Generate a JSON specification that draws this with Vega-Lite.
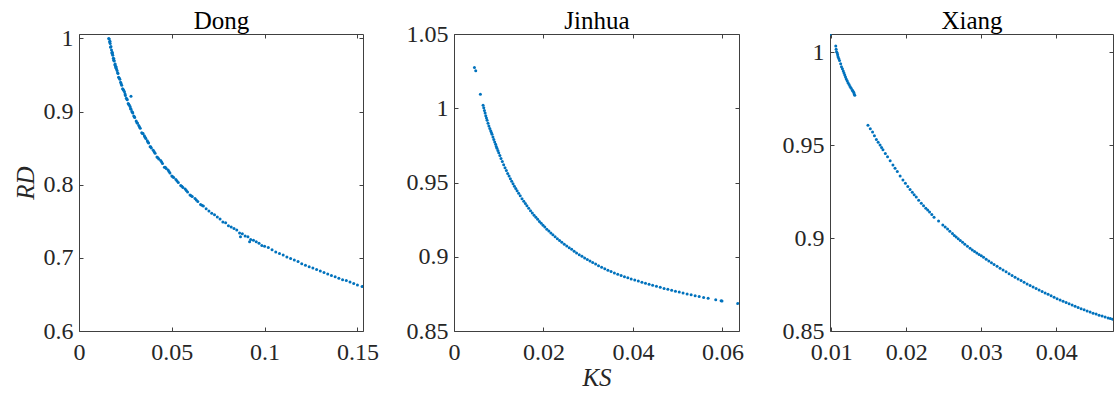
{
  "$schema": "https://vega.github.io/schema/vega-lite/v6.json",
  "padding": {"left": 13, "top": 8, "right": 0, "bottom": 0},
  "background": "white",
  "bounds": "flush",
  "spacing": 91,
  "config": {
    "view": {"stroke": null},
    "axis": {
      "grid": false,
      "labelFont": "Liberation Serif",
      "labelFontSize": 24,
      "labelColor": "#262626",
      "labelFlush": false,
      "labelOverlap": false,
      "domainColor": "#404040",
      "domainWidth": 1,
      "tickColor": "#404040",
      "tickWidth": 1,
      "tickSize": -4,
      "titleFont": "Liberation Serif",
      "titleFontSize": 25,
      "titleFontWeight": "normal",
      "titleFontStyle": "italic",
      "titleColor": "#262626",
      "format": "~g"
    },
    "axisX": {"labelPadding": 13},
    "axisY": {"labelPadding": 10},
    "axisTop": {"titleFontStyle": "normal", "titleColor": "#000000", "titlePadding": 0}
  },
  "datasets": {
    "dong": [
      {"KS": 0.0160, "RD": 1.0000}, {"KS": 0.0163, "RD": 0.9990}, {"KS": 0.0165, "RD": 0.9950}, {"KS": 0.0167, "RD": 0.9960}, {"KS": 0.0168, "RD": 0.9930},
      {"KS": 0.0170, "RD": 0.9880}, {"KS": 0.0172, "RD": 0.9890}, {"KS": 0.0175, "RD": 0.9840}, {"KS": 0.0177, "RD": 0.9800}, {"KS": 0.0179, "RD": 0.9810},
      {"KS": 0.0180, "RD": 0.9790}, {"KS": 0.0182, "RD": 0.9770}, {"KS": 0.0185, "RD": 0.9730}, {"KS": 0.0187, "RD": 0.9700}, {"KS": 0.0188, "RD": 0.9720},
      {"KS": 0.0190, "RD": 0.9690}, {"KS": 0.0193, "RD": 0.9640}, {"KS": 0.0195, "RD": 0.9650}, {"KS": 0.0197, "RD": 0.9620}, {"KS": 0.0198, "RD": 0.9600},
      {"KS": 0.0200, "RD": 0.9610}, {"KS": 0.0202, "RD": 0.9580}, {"KS": 0.0205, "RD": 0.9560}, {"KS": 0.0208, "RD": 0.9530}, {"KS": 0.0210, "RD": 0.9520},
      {"KS": 0.0213, "RD": 0.9470}, {"KS": 0.0217, "RD": 0.9460}, {"KS": 0.0220, "RD": 0.9440}, {"KS": 0.0224, "RD": 0.9400}, {"KS": 0.0227, "RD": 0.9380},
      {"KS": 0.0230, "RD": 0.9360}, {"KS": 0.0235, "RD": 0.9310}, {"KS": 0.0238, "RD": 0.9300}, {"KS": 0.0240, "RD": 0.9290}, {"KS": 0.0245, "RD": 0.9270},
      {"KS": 0.0248, "RD": 0.9240}, {"KS": 0.0250, "RD": 0.9220}, {"KS": 0.0255, "RD": 0.9180}, {"KS": 0.0258, "RD": 0.9170}, {"KS": 0.0260, "RD": 0.9160},
      {"KS": 0.0265, "RD": 0.9110}, {"KS": 0.0268, "RD": 0.9100}, {"KS": 0.0270, "RD": 0.9090}, {"KS": 0.0275, "RD": 0.9070}, {"KS": 0.0278, "RD": 0.9040},
      {"KS": 0.0280, "RD": 0.9030}, {"KS": 0.0280, "RD": 0.9210}, {"KS": 0.0285, "RD": 0.9000}, {"KS": 0.0288, "RD": 0.8990}, {"KS": 0.0290, "RD": 0.8980},
      {"KS": 0.0295, "RD": 0.8940}, {"KS": 0.0298, "RD": 0.8930}, {"KS": 0.0300, "RD": 0.8920}, {"KS": 0.0308, "RD": 0.8870}, {"KS": 0.0312, "RD": 0.8850},
      {"KS": 0.0315, "RD": 0.8840}, {"KS": 0.0322, "RD": 0.8810}, {"KS": 0.0326, "RD": 0.8790}, {"KS": 0.0330, "RD": 0.8770}, {"KS": 0.0338, "RD": 0.8710},
      {"KS": 0.0342, "RD": 0.8700}, {"KS": 0.0345, "RD": 0.8700}, {"KS": 0.0352, "RD": 0.8670}, {"KS": 0.0356, "RD": 0.8650}, {"KS": 0.0360, "RD": 0.8630},
      {"KS": 0.0368, "RD": 0.8600}, {"KS": 0.0372, "RD": 0.8580}, {"KS": 0.0375, "RD": 0.8570}, {"KS": 0.0383, "RD": 0.8520}, {"KS": 0.0386, "RD": 0.8520},
      {"KS": 0.0390, "RD": 0.8500}, {"KS": 0.0400, "RD": 0.8470}, {"KS": 0.0405, "RD": 0.8450}, {"KS": 0.0410, "RD": 0.8430}, {"KS": 0.0420, "RD": 0.8380},
      {"KS": 0.0425, "RD": 0.8370}, {"KS": 0.0430, "RD": 0.8350}, {"KS": 0.0440, "RD": 0.8330}, {"KS": 0.0445, "RD": 0.8310}, {"KS": 0.0450, "RD": 0.8290},
      {"KS": 0.0460, "RD": 0.8240}, {"KS": 0.0465, "RD": 0.8240}, {"KS": 0.0470, "RD": 0.8220}, {"KS": 0.0480, "RD": 0.8200}, {"KS": 0.0485, "RD": 0.8180},
      {"KS": 0.0490, "RD": 0.8160}, {"KS": 0.0500, "RD": 0.8120}, {"KS": 0.0505, "RD": 0.8110}, {"KS": 0.0510, "RD": 0.8100}, {"KS": 0.0522, "RD": 0.8070},
      {"KS": 0.0528, "RD": 0.8050}, {"KS": 0.0535, "RD": 0.8030}, {"KS": 0.0548, "RD": 0.7990}, {"KS": 0.0554, "RD": 0.7980}, {"KS": 0.0560, "RD": 0.7960},
      {"KS": 0.0572, "RD": 0.7940}, {"KS": 0.0578, "RD": 0.7920}, {"KS": 0.0585, "RD": 0.7900}, {"KS": 0.0598, "RD": 0.7860}, {"KS": 0.0604, "RD": 0.7850},
      {"KS": 0.0610, "RD": 0.7840}, {"KS": 0.0625, "RD": 0.7810}, {"KS": 0.0632, "RD": 0.7790}, {"KS": 0.0640, "RD": 0.7770}, {"KS": 0.0655, "RD": 0.7730},
      {"KS": 0.0662, "RD": 0.7720}, {"KS": 0.0670, "RD": 0.7710}, {"KS": 0.0685, "RD": 0.7670}, {"KS": 0.0700, "RD": 0.7640},
      {"KS": 0.0715, "RD": 0.7610}, {"KS": 0.0730, "RD": 0.7590}, {"KS": 0.0745, "RD": 0.7560}, {"KS": 0.0760, "RD": 0.7530},
      {"KS": 0.0775, "RD": 0.7490}, {"KS": 0.0790, "RD": 0.7480}, {"KS": 0.0805, "RD": 0.7440}, {"KS": 0.0820, "RD": 0.7420},
      {"KS": 0.0835, "RD": 0.7400}, {"KS": 0.0850, "RD": 0.7380}, {"KS": 0.0865, "RD": 0.7340}, {"KS": 0.0870, "RD": 0.7290},
      {"KS": 0.0880, "RD": 0.7330}, {"KS": 0.0895, "RD": 0.7300}, {"KS": 0.0910, "RD": 0.7290}, {"KS": 0.0919, "RD": 0.7220},
      {"KS": 0.0925, "RD": 0.7250}, {"KS": 0.0940, "RD": 0.7240}, {"KS": 0.0955, "RD": 0.7220}, {"KS": 0.0970, "RD": 0.7200},
      {"KS": 0.0985, "RD": 0.7170}, {"KS": 0.1000, "RD": 0.7160}, {"KS": 0.1020, "RD": 0.7140}, {"KS": 0.1040, "RD": 0.7110},
      {"KS": 0.1060, "RD": 0.7080}, {"KS": 0.1080, "RD": 0.7060}, {"KS": 0.1100, "RD": 0.7040}, {"KS": 0.1120, "RD": 0.7010},
      {"KS": 0.1140, "RD": 0.6990}, {"KS": 0.1160, "RD": 0.6970}, {"KS": 0.1180, "RD": 0.6950}, {"KS": 0.1200, "RD": 0.6920},
      {"KS": 0.1220, "RD": 0.6900}, {"KS": 0.1240, "RD": 0.6880}, {"KS": 0.1260, "RD": 0.6860}, {"KS": 0.1280, "RD": 0.6840},
      {"KS": 0.1300, "RD": 0.6820}, {"KS": 0.1320, "RD": 0.6800}, {"KS": 0.1340, "RD": 0.6780}, {"KS": 0.1360, "RD": 0.6760},
      {"KS": 0.1380, "RD": 0.6740}, {"KS": 0.1400, "RD": 0.6720}, {"KS": 0.1420, "RD": 0.6700}, {"KS": 0.1440, "RD": 0.6690},
      {"KS": 0.1460, "RD": 0.6670}, {"KS": 0.1480, "RD": 0.6650}, {"KS": 0.1500, "RD": 0.6630}, {"KS": 0.1525, "RD": 0.6610}
    ],
    "jinhua": [
      {"KS": 0.00457, "RD": 1.0275}, {"KS": 0.00486, "RD": 1.0253}, {"KS": 0.0059, "RD": 1.0095}, {"KS": 0.0065, "RD": 1.0020},
      {"KS": 0.00665, "RD": 1.0003}, {"KS": 0.0068, "RD": 0.9985}, {"KS": 0.00695, "RD": 0.9968}, {"KS": 0.0071, "RD": 0.9950},
      {"KS": 0.00725, "RD": 0.9934}, {"KS": 0.0074, "RD": 0.9919}, {"KS": 0.0076, "RD": 0.9899}, {"KS": 0.0078, "RD": 0.9880},
      {"KS": 0.0080, "RD": 0.9864}, {"KS": 0.0082, "RD": 0.9848}, {"KS": 0.00835, "RD": 0.9836}, {"KS": 0.0085, "RD": 0.9825},
      {"KS": 0.0087, "RD": 0.9807}, {"KS": 0.0089, "RD": 0.9790}, {"KS": 0.0091, "RD": 0.9773}, {"KS": 0.0093, "RD": 0.9757},
      {"KS": 0.00945, "RD": 0.9743}, {"KS": 0.0096, "RD": 0.9730}, {"KS": 0.0098, "RD": 0.9715}, {"KS": 0.0100, "RD": 0.9700},
      {"KS": 0.01025, "RD": 0.9681}, {"KS": 0.0105, "RD": 0.9662}, {"KS": 0.0108, "RD": 0.9641}, {"KS": 0.0111, "RD": 0.9620},
      {"KS": 0.0114, "RD": 0.9600}, {"KS": 0.0117, "RD": 0.9580}, {"KS": 0.0120, "RD": 0.9561}, {"KS": 0.0123, "RD": 0.9543},
      {"KS": 0.0126, "RD": 0.9525}, {"KS": 0.0129, "RD": 0.9508}, {"KS": 0.0132, "RD": 0.9491}, {"KS": 0.0135, "RD": 0.9475},
      {"KS": 0.0138, "RD": 0.9459}, {"KS": 0.0141, "RD": 0.9444}, {"KS": 0.01445, "RD": 0.9427}, {"KS": 0.0148, "RD": 0.9410},
      {"KS": 0.0152, "RD": 0.9391}, {"KS": 0.0156, "RD": 0.9373}, {"KS": 0.01595, "RD": 0.9358}, {"KS": 0.0163, "RD": 0.9343},
      {"KS": 0.0167, "RD": 0.9326}, {"KS": 0.0171, "RD": 0.9310}, {"KS": 0.0175, "RD": 0.9295}, {"KS": 0.0179, "RD": 0.9280},
      {"KS": 0.0183, "RD": 0.9266}, {"KS": 0.0187, "RD": 0.9252}, {"KS": 0.0191, "RD": 0.9238}, {"KS": 0.0195, "RD": 0.9225},
      {"KS": 0.0199, "RD": 0.9212}, {"KS": 0.0203, "RD": 0.9200}, {"KS": 0.02075, "RD": 0.9186}, {"KS": 0.0212, "RD": 0.9173},
      {"KS": 0.02165, "RD": 0.9160}, {"KS": 0.0221, "RD": 0.9148}, {"KS": 0.0226, "RD": 0.9134}, {"KS": 0.0231, "RD": 0.9121},
      {"KS": 0.0236, "RD": 0.9109}, {"KS": 0.0241, "RD": 0.9097}, {"KS": 0.02465, "RD": 0.9085}, {"KS": 0.0252, "RD": 0.9073},
      {"KS": 0.02575, "RD": 0.9061}, {"KS": 0.0263, "RD": 0.9050}, {"KS": 0.02685, "RD": 0.9037}, {"KS": 0.0274, "RD": 0.9025},
      {"KS": 0.0280, "RD": 0.9014}, {"KS": 0.0286, "RD": 0.9003}, {"KS": 0.0292, "RD": 0.8992}, {"KS": 0.0298, "RD": 0.8982},
      {"KS": 0.0304, "RD": 0.8972}, {"KS": 0.0310, "RD": 0.8962}, {"KS": 0.03165, "RD": 0.8951}, {"KS": 0.0323, "RD": 0.8940},
      {"KS": 0.0330, "RD": 0.8929}, {"KS": 0.0337, "RD": 0.8919}, {"KS": 0.0344, "RD": 0.8909}, {"KS": 0.0351, "RD": 0.8900},
      {"KS": 0.03585, "RD": 0.8891}, {"KS": 0.0366, "RD": 0.8882}, {"KS": 0.03735, "RD": 0.8874}, {"KS": 0.0381, "RD": 0.8866},
      {"KS": 0.03885, "RD": 0.8858}, {"KS": 0.0396, "RD": 0.8850}, {"KS": 0.0404, "RD": 0.8843}, {"KS": 0.0412, "RD": 0.8836},
      {"KS": 0.0420, "RD": 0.8829}, {"KS": 0.0428, "RD": 0.8822}, {"KS": 0.0436, "RD": 0.8815}, {"KS": 0.0444, "RD": 0.8808},
      {"KS": 0.04525, "RD": 0.8801}, {"KS": 0.0461, "RD": 0.8794}, {"KS": 0.04695, "RD": 0.8787}, {"KS": 0.0478, "RD": 0.8781},
      {"KS": 0.04865, "RD": 0.8774}, {"KS": 0.0495, "RD": 0.8768}, {"KS": 0.05035, "RD": 0.8762}, {"KS": 0.0512, "RD": 0.8756},
      {"KS": 0.0521, "RD": 0.8750}, {"KS": 0.0530, "RD": 0.8744}, {"KS": 0.0539, "RD": 0.8738}, {"KS": 0.0548, "RD": 0.8732},
      {"KS": 0.0558, "RD": 0.8726}, {"KS": 0.0568, "RD": 0.8720}, {"KS": 0.0585, "RD": 0.8710}, {"KS": 0.0597, "RD": 0.8703},
      {"KS": 0.0599, "RD": 0.8702}, {"KS": 0.0634, "RD": 0.8686}
    ],
    "xiang": [
      {"KS": 0.00985, "RD": 1.0095},
      {"KS": 0.0106, "RD": 1.0032}, {"KS": 0.01065, "RD": 1.0015}, {"KS": 0.0107, "RD": 1.0002}, {"KS": 0.0108, "RD": 0.9995},
      {"KS": 0.01085, "RD": 0.9985}, {"KS": 0.0109, "RD": 0.9975}, {"KS": 0.0110, "RD": 0.9965}, {"KS": 0.0111, "RD": 0.9955},
      {"KS": 0.01125, "RD": 0.9937}, {"KS": 0.01136, "RD": 0.9921}, {"KS": 0.01148, "RD": 0.9910}, {"KS": 0.0116, "RD": 0.9898},
      {"KS": 0.0117, "RD": 0.9887}, {"KS": 0.0118, "RD": 0.9876}, {"KS": 0.0119, "RD": 0.9866}, {"KS": 0.0120, "RD": 0.9855},
      {"KS": 0.01212, "RD": 0.9845}, {"KS": 0.01223, "RD": 0.9835}, {"KS": 0.01237, "RD": 0.9825}, {"KS": 0.0125, "RD": 0.9815},
      {"KS": 0.01265, "RD": 0.9805}, {"KS": 0.01282, "RD": 0.9795}, {"KS": 0.0129, "RD": 0.9789}, {"KS": 0.0130, "RD": 0.9782},
      {"KS": 0.01305, "RD": 0.9775}, {"KS": 0.01313, "RD": 0.9768},
      {"KS": 0.01489, "RD": 0.9606}, {"KS": 0.0152, "RD": 0.9588}, {"KS": 0.0155, "RD": 0.9570}, {"KS": 0.01575, "RD": 0.9550},
      {"KS": 0.01601, "RD": 0.9530}, {"KS": 0.01625, "RD": 0.9515}, {"KS": 0.0165, "RD": 0.9500}, {"KS": 0.0167, "RD": 0.9487},
      {"KS": 0.01689, "RD": 0.9474}, {"KS": 0.0172, "RD": 0.9455}, {"KS": 0.0175, "RD": 0.9437}, {"KS": 0.01785, "RD": 0.9415},
      {"KS": 0.01822, "RD": 0.9393}, {"KS": 0.0185, "RD": 0.9375}, {"KS": 0.0188, "RD": 0.9357}, {"KS": 0.01918, "RD": 0.9334},
      {"KS": 0.01955, "RD": 0.9312}, {"KS": 0.01988, "RD": 0.9295}, {"KS": 0.0202, "RD": 0.9277}, {"KS": 0.0205, "RD": 0.9261},
      {"KS": 0.0208, "RD": 0.9246}, {"KS": 0.02105, "RD": 0.9233}, {"KS": 0.02133, "RD": 0.9220}, {"KS": 0.02165, "RD": 0.9203},
      {"KS": 0.0220, "RD": 0.9187}, {"KS": 0.0223, "RD": 0.9173}, {"KS": 0.0226, "RD": 0.9160}, {"KS": 0.02285, "RD": 0.9150},
      {"KS": 0.0231, "RD": 0.9140}, {"KS": 0.0234, "RD": 0.9126}, {"KS": 0.0237, "RD": 0.9112}, {"KS": 0.0243, "RD": 0.9091},
      {"KS": 0.02487, "RD": 0.9070}, {"KS": 0.02518, "RD": 0.9059}, {"KS": 0.0255, "RD": 0.9048}, {"KS": 0.0258, "RD": 0.9036},
      {"KS": 0.02615, "RD": 0.9024}, {"KS": 0.0264, "RD": 0.9014}, {"KS": 0.02665, "RD": 0.9005}, {"KS": 0.02692, "RD": 0.8996},
      {"KS": 0.0272, "RD": 0.8987}, {"KS": 0.0275, "RD": 0.8977}, {"KS": 0.0278, "RD": 0.8967}, {"KS": 0.02815, "RD": 0.8956},
      {"KS": 0.0285, "RD": 0.8945}, {"KS": 0.0288, "RD": 0.8936}, {"KS": 0.0291, "RD": 0.8928}, {"KS": 0.0294, "RD": 0.8920},
      {"KS": 0.0297, "RD": 0.8912}, {"KS": 0.0300, "RD": 0.8904}, {"KS": 0.0303, "RD": 0.8896}, {"KS": 0.03065, "RD": 0.8886},
      {"KS": 0.0310, "RD": 0.8877}, {"KS": 0.03135, "RD": 0.8867}, {"KS": 0.0317, "RD": 0.8858}, {"KS": 0.0321, "RD": 0.8848},
      {"KS": 0.0325, "RD": 0.8838}, {"KS": 0.0329, "RD": 0.8828}, {"KS": 0.0333, "RD": 0.8818}, {"KS": 0.0337, "RD": 0.8808},
      {"KS": 0.0341, "RD": 0.8798}, {"KS": 0.0345, "RD": 0.8789}, {"KS": 0.0349, "RD": 0.8780}, {"KS": 0.0353, "RD": 0.8771},
      {"KS": 0.0357, "RD": 0.8762}, {"KS": 0.0361, "RD": 0.8753}, {"KS": 0.0365, "RD": 0.8745}, {"KS": 0.0369, "RD": 0.8736},
      {"KS": 0.0373, "RD": 0.8728}, {"KS": 0.0377, "RD": 0.8720}, {"KS": 0.0381, "RD": 0.8712}, {"KS": 0.0385, "RD": 0.8704},
      {"KS": 0.0389, "RD": 0.8697}, {"KS": 0.0393, "RD": 0.8689}, {"KS": 0.0397, "RD": 0.8682}, {"KS": 0.0401, "RD": 0.8674},
      {"KS": 0.0405, "RD": 0.8667}, {"KS": 0.0409, "RD": 0.8660}, {"KS": 0.0413, "RD": 0.8653}, {"KS": 0.0417, "RD": 0.8646},
      {"KS": 0.0421, "RD": 0.8640}, {"KS": 0.0425, "RD": 0.8633}, {"KS": 0.0429, "RD": 0.8627}, {"KS": 0.0433, "RD": 0.8620},
      {"KS": 0.0437, "RD": 0.8614}, {"KS": 0.0441, "RD": 0.8608}, {"KS": 0.0445, "RD": 0.8602}, {"KS": 0.0449, "RD": 0.8596},
      {"KS": 0.0453, "RD": 0.8591}, {"KS": 0.0457, "RD": 0.8585}, {"KS": 0.0461, "RD": 0.8580}, {"KS": 0.0465, "RD": 0.8575},
      {"KS": 0.0469, "RD": 0.8570}, {"KS": 0.0472, "RD": 0.8567}, {"KS": 0.0475, "RD": 0.8563}
    ]
  },
  "hconcat": [
    {
      "width": 284, "height": 297,
      "data": {"name": "dong"},
      "layer": [
        {
          "mark": {"type": "circle", "size": 9, "color": "#0072BD", "opacity": 1, "clip": true},
          "encoding": {
            "x": {"field": "KS", "type": "quantitative", "scale": {"domain": [0, 0.153], "nice": false, "zero": false},
                  "axis": {"values": [0, 0.05, 0.1, 0.15], "title": null}},
            "y": {"field": "RD", "type": "quantitative", "scale": {"domain": [0.6, 1.006], "nice": false, "zero": false},
                  "axis": {"values": [0.6, 0.7, 0.8, 0.9, 1], "title": "RD", "titlePadding": 5}}
          }
        },
        {
          "mark": {"type": "circle", "size": 9, "opacity": 0},
          "encoding": {
            "x": {"field": "KS", "type": "quantitative", "scale": {"domain": [0, 0.153], "nice": false, "zero": false},
                  "axis": {"orient": "top", "labels": false, "values": [0, 0.05, 0.1, 0.15], "title": "Dong"}},
            "y": {"field": "RD", "type": "quantitative", "scale": {"domain": [0.6, 1.006], "nice": false, "zero": false},
                  "axis": {"orient": "right", "labels": false, "values": [0.6, 0.7, 0.8, 0.9, 1], "title": null}}
          }
        }
      ],
      "resolve": {"axis": {"x": "independent", "y": "independent"}}
    },
    {
      "width": 285, "height": 297,
      "data": {"name": "jinhua"},
      "layer": [
        {
          "mark": {"type": "circle", "size": 9, "color": "#0072BD", "opacity": 1, "clip": true},
          "encoding": {
            "x": {"field": "KS", "type": "quantitative", "scale": {"domain": [0, 0.0637], "nice": false, "zero": false},
                  "axis": {"values": [0, 0.02, 0.04, 0.06], "title": "KS", "titlePadding": 1}},
            "y": {"field": "RD", "type": "quantitative", "scale": {"domain": [0.85, 1.05], "nice": false, "zero": false},
                  "axis": {"values": [0.85, 0.9, 0.95, 1, 1.05], "title": null}}
          }
        },
        {
          "mark": {"type": "circle", "size": 9, "opacity": 0},
          "encoding": {
            "x": {"field": "KS", "type": "quantitative", "scale": {"domain": [0, 0.0637], "nice": false, "zero": false},
                  "axis": {"orient": "top", "labels": false, "values": [0, 0.02, 0.04, 0.06], "title": "Jinhua"}},
            "y": {"field": "RD", "type": "quantitative", "scale": {"domain": [0.85, 1.05], "nice": false, "zero": false},
                  "axis": {"orient": "right", "labels": false, "values": [0.85, 0.9, 0.95, 1, 1.05], "title": null}}
          }
        }
      ],
      "resolve": {"axis": {"x": "independent", "y": "independent"}}
    },
    {
      "width": 283, "height": 297,
      "data": {"name": "xiang"},
      "layer": [
        {
          "mark": {"type": "circle", "size": 9, "color": "#0072BD", "opacity": 1, "clip": true},
          "encoding": {
            "x": {"field": "KS", "type": "quantitative", "scale": {"domain": [0.00983, 0.04755], "nice": false, "zero": false},
                  "axis": {"values": [0.01, 0.02, 0.03, 0.04], "title": null}},
            "y": {"field": "RD", "type": "quantitative", "scale": {"domain": [0.85, 1.0097], "nice": false, "zero": false},
                  "axis": {"values": [0.85, 0.9, 0.95, 1], "title": null}}
          }
        },
        {
          "mark": {"type": "circle", "size": 9, "opacity": 0},
          "encoding": {
            "x": {"field": "KS", "type": "quantitative", "scale": {"domain": [0.00983, 0.04755], "nice": false, "zero": false},
                  "axis": {"orient": "top", "labels": false, "values": [0.01, 0.02, 0.03, 0.04], "title": "Xiang"}},
            "y": {"field": "RD", "type": "quantitative", "scale": {"domain": [0.85, 1.0097], "nice": false, "zero": false},
                  "axis": {"orient": "right", "labels": false, "values": [0.85, 0.9, 0.95, 1], "title": null}}
          }
        }
      ],
      "resolve": {"axis": {"x": "independent", "y": "independent"}}
    }
  ]
}
